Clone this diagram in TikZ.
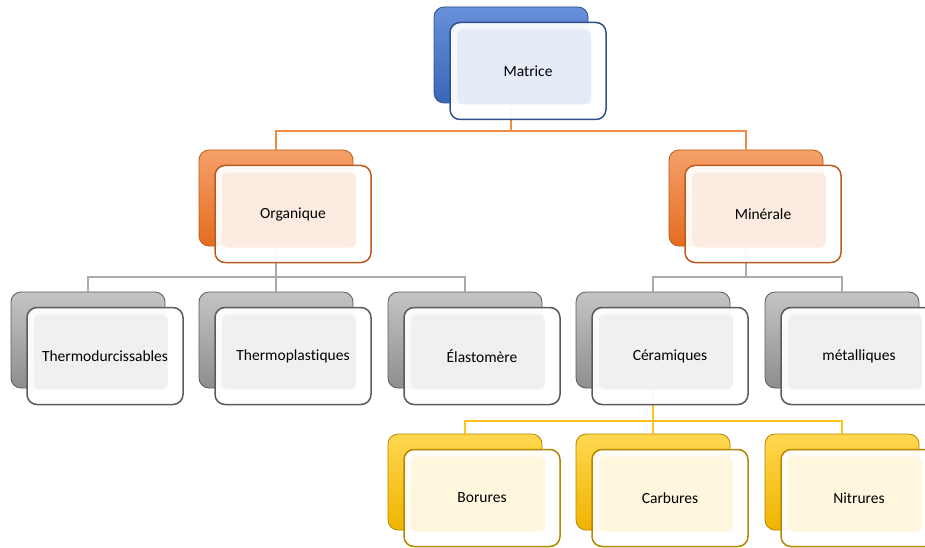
\documentclass[tikz,border=0pt]{standalone}
\usepackage{fontspec}
\setmainfont[Ligatures=CommonOff]{Carlito}
\usetikzlibrary{calc}
\definecolor{blueD}{HTML}{2F528F}
\definecolor{blueT}{HTML}{6890DA}
\definecolor{blueB}{HTML}{3A66B8}
\definecolor{blueF}{HTML}{E6ECF7}
\definecolor{orD}{HTML}{B85B1C}
\definecolor{orT}{HTML}{F5A06A}
\definecolor{orB}{HTML}{E46C1F}
\definecolor{orF}{HTML}{FBEBE1}
\definecolor{orC}{HTML}{F08A45}
\definecolor{grD}{HTML}{5A5A5A}
\definecolor{grT}{HTML}{C4C4C4}
\definecolor{grB}{HTML}{8E8E8E}
\definecolor{grF}{HTML}{F0F0F0}
\definecolor{grC}{HTML}{AAAAAA}
\definecolor{yeD}{HTML}{B38700}
\definecolor{yeT}{HTML}{FFD750}
\definecolor{yeB}{HTML}{F0B400}
\definecolor{yeF}{HTML}{FFF6DE}
\definecolor{yeC}{HTML}{FFC417}
\begin{document}
\begin{tikzpicture}[x=1pt,y=-1pt,
  backbox/.style={rounded corners=10pt, minimum width=154pt, minimum height=96pt, inner sep=0pt, line width=0.8pt},
  bblue/.style={backbox, draw=blueD, top color=blueT, bottom color=blueB},
  borange/.style={backbox, draw=orD, top color=orT, bottom color=orB},
  bgray/.style={backbox, draw=grD, top color=grT, bottom color=grB},
  byellow/.style={backbox, draw=yeD, top color=yeT, bottom color=yeB},
  frontbox/.style={rounded corners=10pt, minimum width=156pt, minimum height=97pt, inner sep=0pt,
    line width=1.5pt, fill=white, fill opacity=0.95, text opacity=1, text=black,
    font=\fontsize{15.5}{18}\selectfont,
    path picture={\fill[#1, fill opacity=1, rounded corners=6pt]
      ([shift={(7pt,-7pt)}]path picture bounding box.north west) rectangle
      ([shift={(-15pt,15pt)}]path picture bounding box.south east);}},
  fblue/.style={frontbox=blueF, draw=blueD},
  forange/.style={frontbox=orF, draw=orD},
  fgray/.style={frontbox=grF, draw=grD},
  fyellow/.style={frontbox=yeF, draw=yeD},
  conn/.style={draw=#1, line width=2pt}
]
\useasboundingbox (0,0) rectangle (925,548);
% back boxes
\node[bblue] (Mb) at (511,55) {};
\node[borange] (Ob) at (276,198) {};
\node[borange] (Nb) at (746,198) {};
\node[bgray] (T1b) at (88,340) {};
\node[bgray] (T2b) at (276,340) {};
\node[bgray] (Eb) at (465,340) {};
\node[bgray] (Cb) at (653,340) {};
\node[bgray] (Meb) at (842,340) {};
\node[byellow] (Bb) at (465,482) {};
\node[byellow] (Cab) at (653,482) {};
\node[byellow] (Nib) at (842,482) {};
% connectors
\draw[conn=orC] (Mb.south) -- ++(0,28) -| (Ob.north);
\draw[conn=orC] (Mb.south) -- ++(0,28) -| (Nb.north);
\draw[conn=grC] (Ob.south) -- ++(0,31) -| (T1b.north);
\draw[conn=grC] (Ob.south) -- ++(0,31) -| (T2b.north);
\draw[conn=grC] (Ob.south) -- ++(0,31) -| (Eb.north);
\draw[conn=grC] (Nb.south) -- ++(0,31) -| (Cb.north);
\draw[conn=grC] (Nb.south) -- ++(0,31) -| (Meb.north);
\draw[conn=yeC] (Cb.south) -- ++(0,33) -| (Bb.north);
\draw[conn=yeC] (Cb.south) -- ++(0,33) -| (Cab.north);
\draw[conn=yeC] (Cb.south) -- ++(0,33) -| (Nib.north);
% front boxes
\node[fblue] (M) at ($(Mb)+(17,16)$) {Matrice};
\node[forange] (O) at ($(Ob)+(17,16)$) {Organique};
\node[forange] (N) at ($(Nb)+(17,16)$) {Minérale};
\node[fgray] (T1) at ($(T1b)+(17,16)$) {Thermodurcissables};
\node[fgray] (T2) at ($(T2b)+(17,16)$) {Thermoplastiques};
\node[fgray] (E) at ($(Eb)+(17,16)$) {Élastomère};
\node[fgray] (C) at ($(Cb)+(17,16)$) {Céramiques};
\node[fgray] (Me) at ($(Meb)+(17,16)$) {métalliques};
\node[fyellow] (B) at ($(Bb)+(17,16)$) {Borures};
\node[fyellow] (Ca) at ($(Cab)+(17,16)$) {Carbures};
\node[fyellow] (Ni) at ($(Nib)+(17,16)$) {Nitrures};
\end{tikzpicture}
\end{document}
